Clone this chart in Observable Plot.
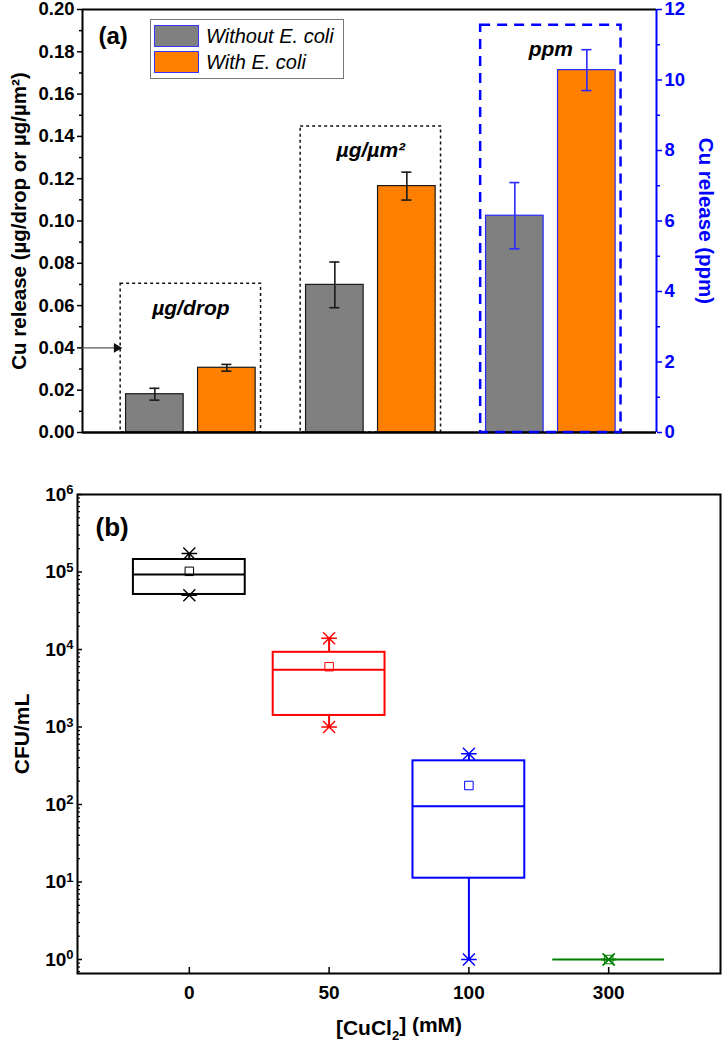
<!DOCTYPE html>
<html><head><meta charset="utf-8">
<script src="https://cdn.jsdelivr.net/npm/d3@7"></script>
<script src="https://cdn.jsdelivr.net/npm/@observablehq/plot@0.6"></script>
<style>
body{margin:0;background:#fff;}
#wrap{position:relative;width:722px;height:1044px;font-family:"Liberation Sans",Arial,sans-serif;}
#wrap svg{display:block;}
.legend{position:absolute;left:150px;top:19px;width:194px;height:60px;border:1px solid #777;background:#fff;box-sizing:border-box;}
.sw{position:absolute;left:3px;width:45px;height:22px;border:1px solid #3535ff;box-sizing:border-box;}
.lt{position:absolute;left:55px;font-style:italic;font-size:20px;line-height:22px;white-space:nowrap;}
</style></head><body><div id="wrap"></div>
<script>
// ---------- Panel (a) data ----------
const groups = ["µg/drop", "µg/µm²", "ppm"];
const groupAxis = ["left", "left", "right"];
const seriesNames = ["Without E. coli", "With E. coli"];
const withoutMean = [0.0181, 0.0698, 6.15];
const withoutErr = [0.0028, 0.0108, 0.94];
const withMean = [0.0306, 0.1165, 10.28];
const withErr = [0.0016, 0.0066, 0.58];
const boxTop = [0.0703, 0.1447, 11.55];
const leftTicks = [0, 0.02, 0.04, 0.06, 0.08, 0.10, 0.12, 0.14, 0.16, 0.18, 0.20];
const leftMinor = [0.01, 0.03, 0.05, 0.07, 0.09, 0.11, 0.13, 0.15, 0.17, 0.19];
const rightTicks = [0, 2, 4, 6, 8, 10, 12];
const rightMinor = [1, 3, 5, 7, 9, 11];
const ppmPerUnit = 60;   // 12 ppm on the right axis = 0.20 on the left axis
const arrowAt = 0.04;

// ---------- Panel (b) data ----------
const concLabels = ["0", "50", "100", "300"];
const boxColors = ["#000000", "#ff0000", "#0000ff", "#008000"];
const q1 = [5.13e4, 1.41e3, 11.2, 1];
const median = [9.3e4, 5.5e3, 95, 1];
const q3 = [1.45e5, 9.2e3, 366, 1];
const meanV = [1.02e5, 6.0e3, 176, 1];
const maxV = [1.73e5, 1.4e4, 451, 1];
const minV = [5.0e4, 1.0e3, 1, 1];
const decades = [1, 10, 100, 1e3, 1e4, 1e5, 1e6];

// ---------- build ----------
const FONT = "'Liberation Sans', Arial, sans-serif";
const wrap = document.getElementById("wrap");
const toLeft = (v, i) => groupAxis[i] === "right" ? v / ppmPerUnit : v;
const edge = i => groupAxis[i] === "right" ? "#2a2aff" : "#1a1a1a";

const bars = groups.flatMap((g, i) => [
  {i, off: -1, v: toLeft(withoutMean[i], i), e: toLeft(withoutErr[i], i), fill: "#808080"},
  {i, off: 1, v: toLeft(withMean[i], i), e: toLeft(withErr[i], i), fill: "#ff8000"}
]);
const pos = d => d.i + d.off * 0.2;
const boxesA = groups.map((g, i) => ({i, label: g, top: toLeft(boxTop[i], i)}));
const xDom = [-0.602, 2.587];

const plotA = Plot.plot({
  width: 722, height: 470,
  marginLeft: 82, marginRight: 66, marginTop: 9, marginBottom: 38,
  x: {domain: xDom, axis: null},
  y: {domain: [0, 0.2], axis: null},
  style: {fontFamily: FONT, fontSize: "18.5px", fontWeight: "bold", color: "black", background: "white", overflow: "visible"},
  marks: [
    Plot.rect(boxesA.filter(d => groupAxis[d.i] === "left"), {
      x1: d => d.i - 0.39, x2: d => d.i + 0.39, y1: 0, y2: "top",
      fill: "none", stroke: "#111", strokeWidth: 1.5, strokeDasharray: "3,3"
    }),
    Plot.rectY(bars, {
      x1: d => pos(d) - 0.16, x2: d => pos(d) + 0.16, y1: 0, y2: "v",
      fill: d => d.fill, stroke: d => edge(d.i), strokeWidth: 1.2
    }),
    Plot.ruleX(bars, {x: pos, y1: d => d.v - d.e, y2: d => d.v + d.e, stroke: d => edge(d.i), strokeWidth: 1.6}),
    Plot.ruleY(bars.flatMap(d => [{...d, y: d.v - d.e}, {...d, y: d.v + d.e}]), {
      y: "y", x1: d => pos(d) - 0.028, x2: d => pos(d) + 0.028, stroke: d => edge(d.i), strokeWidth: 1.6
    }),
    Plot.ruleY([0], {strokeWidth: 2.5}),
    Plot.ruleY([0.2], {strokeWidth: 2}),
    Plot.ruleX([xDom[0]], {strokeWidth: 2}),
    Plot.ruleX([xDom[1]], {stroke: "#0000ff", strokeWidth: 2}),
    Plot.rect(boxesA.filter(d => groupAxis[d.i] === "right"), {
      x1: d => d.i - 0.39, x2: d => d.i + 0.39, y1: 0, y2: "top",
      fill: "none", stroke: "#0000ff", strokeWidth: 2.5, strokeDasharray: "10,7"
    }),
    Plot.text(boxesA, {x: "i", y: "top", text: "label", dy: 24, lineAnchor: "middle", fontSize: 21, fontStyle: "italic", fontWeight: "bold"}),
    Plot.ruleY([{x1: xDom[0], x2: -0.39, y: arrowAt}], {x1: "x1", x2: "x2", y: "y", stroke: "#555", strokeWidth: 1.2}),
    Plot.dot([{x: -0.39, y: arrowAt}], {x: "x", y: "y", symbol: "triangle", r: 3.6, rotate: 90, dx: -4, fill: "#111", stroke: "none"}),
    Plot.text(["(a)"], {frameAnchor: "top-left", dx: 16, dy: 27, textAnchor: "start", lineAnchor: "middle", fontSize: 24}),
    Plot.axisY({ticks: leftTicks, tickSize: 5, tickPadding: 3, tickFormat: d3.format(".2f"), label: null, strokeWidth: 1.5}),
    Plot.axisY({ticks: leftMinor, tickSize: 3, tickFormat: () => "", label: null, strokeWidth: 1.5}),
    Plot.axisY({anchor: "right", ticks: rightTicks.map(v => v / ppmPerUnit), tickSize: 5, tickPadding: 3,
      tickFormat: v => String(Math.round(v * ppmPerUnit)), label: null, stroke: "#0000ff", fill: "#0000ff", strokeWidth: 1.5}),
    Plot.axisY({anchor: "right", ticks: rightMinor.map(v => v / ppmPerUnit), tickSize: 3, tickFormat: () => "",
      label: null, stroke: "#0000ff", strokeWidth: 1.5}),
    Plot.text(["Cu release (µg/drop or µg/µm²)"], {frameAnchor: "left", dx: -63, rotate: -90, textAnchor: "middle", lineAnchor: "middle", fontSize: 20.5}),
    Plot.text(["Cu release (ppm)"], {frameAnchor: "right", dx: 49, rotate: 90, textAnchor: "middle", lineAnchor: "middle", fontSize: 20.5, fill: "#0000ff"})
  ]
});

const boxes = concLabels.map((c, i) => ({i, q1: q1[i], med: median[i], q3: q3[i], mean: meanV[i], max: maxV[i], min: minV[i], color: boxColors[i]}));
const star = {
  draw(ctx, size) {
    const r = Math.sqrt(size / Math.PI);
    ctx.moveTo(-r, -r); ctx.lineTo(r, r);
    ctx.moveTo(-r, r); ctx.lineTo(r, -r);
    ctx.moveTo(-1.3 * r, 0); ctx.lineTo(1.3 * r, 0);
  }
};
const minor = [];
for (let e = -1; e < 6; e++) for (let k = 2; k <= 9; k++) { const v = k * Math.pow(10, e); if (v >= 0.66 && v < 1e6) minor.push(v); }
const PW = 722 - 77 - 2, PH = 574 - 24 - 71;

const plotB = Plot.plot({
  width: 722, height: 574,
  marginLeft: 77, marginRight: 2, marginTop: 24, marginBottom: 71,
  x: {domain: [-0.8, 3.8], axis: null},
  y: {type: "log", domain: [0.66, 1e6], axis: null},
  color: {type: "identity"},
  style: {fontFamily: FONT, fontSize: "19px", fontWeight: "bold", color: "black", background: "white", overflow: "visible"},
  marks: [
    Plot.frame({strokeWidth: 2}),
    Plot.ruleY(decades, {insetRight: PW - 5, strokeWidth: 1.5}),
    Plot.ruleY(minor, {insetRight: PW - 3, strokeWidth: 1.2}),
    Plot.ruleX([0, 1, 2, 3], {insetTop: PH - 6, strokeWidth: 1.5}),
    Plot.axisY({ticks: decades, tickSize: 0, tickPadding: 4, tickFormat: d => "10^" + Math.round(Math.log10(d)), label: null}),
    Plot.axisX({ticks: [0, 1, 2, 3], tickSize: 0, tickPadding: 12, tickFormat: i => concLabels[i], label: null}),
    Plot.rect(boxes.filter(d => d.q3 > d.q1), {x1: d => d.i - 0.4, x2: d => d.i + 0.4, y1: "q1", y2: "q3", fill: "none", stroke: d => d.color, strokeWidth: 2}),
    Plot.ruleY(boxes, {y: "med", x1: d => d.i - 0.4, x2: d => d.i + 0.4, stroke: d => d.color, strokeWidth: 2}),
    Plot.ruleX(boxes.filter(d => d.max > d.q3), {x: "i", y1: "q3", y2: "max", stroke: d => d.color, strokeWidth: 2}),
    Plot.ruleX(boxes.filter(d => d.min < d.q1), {x: "i", y1: "min", y2: "q1", stroke: d => d.color, strokeWidth: 2}),
    Plot.dot(boxes.flatMap(d => [{...d, y: d.max}, {...d, y: d.min}]), {x: "i", y: "y", symbol: star, r: 6, stroke: d => d.color, strokeWidth: 1.4}),
    Plot.dot(boxes, {x: "i", y: "mean", symbol: "square", r: 4.8, fill: "none", stroke: d => d.color, strokeWidth: 1}),
    Plot.text(["(b)"], {frameAnchor: "top-left", dx: 18, dy: 33, textAnchor: "start", lineAnchor: "middle", fontSize: 26}),
    Plot.text(["CFU/mL"], {frameAnchor: "left", dx: -55, rotate: -90, textAnchor: "middle", lineAnchor: "middle", fontSize: 21}),
    Plot.text(["[CuCl2] (mM)"], {frameAnchor: "bottom", dy: 55, textAnchor: "middle", lineAnchor: "middle", fontSize: 21})
  ]
});

wrap.appendChild(plotA);
wrap.appendChild(plotB);

// superscripts for log tick labels, subscript in the x label
const svgNS = "http://www.w3.org/2000/svg";
plotB.querySelectorAll("text").forEach(t => {
  const s = t.textContent;
  if (/^10\^\d$/.test(s)) {
    const exp = s.split("^")[1];
    t.textContent = "10";
    const sp = document.createElementNS(svgNS, "tspan");
    sp.setAttribute("dy", "-0.5em"); sp.setAttribute("font-size", "13");
    sp.textContent = exp; t.appendChild(sp);
  } else if (s === "[CuCl2] (mM)") {
    t.textContent = "[CuCl";
    const a = document.createElementNS(svgNS, "tspan");
    a.setAttribute("dy", "0.35em"); a.setAttribute("font-size", "13"); a.textContent = "2";
    const b = document.createElementNS(svgNS, "tspan");
    b.setAttribute("dy", "-0.35em"); b.textContent = "] (mM)";
    t.appendChild(a); t.appendChild(b);
  }
});

// legend
const lg = document.createElement("div");
lg.className = "legend";
[["#808080", 5], ["#ff8000", 31]].forEach(([c, top], k) => {
  const sw = document.createElement("div");
  sw.className = "sw"; sw.style.top = top + "px"; sw.style.background = c;
  const tx = document.createElement("div");
  tx.className = "lt"; tx.style.top = top + "px"; tx.textContent = seriesNames[k];
  lg.appendChild(sw); lg.appendChild(tx);
});
wrap.appendChild(lg);
</script></body></html>
